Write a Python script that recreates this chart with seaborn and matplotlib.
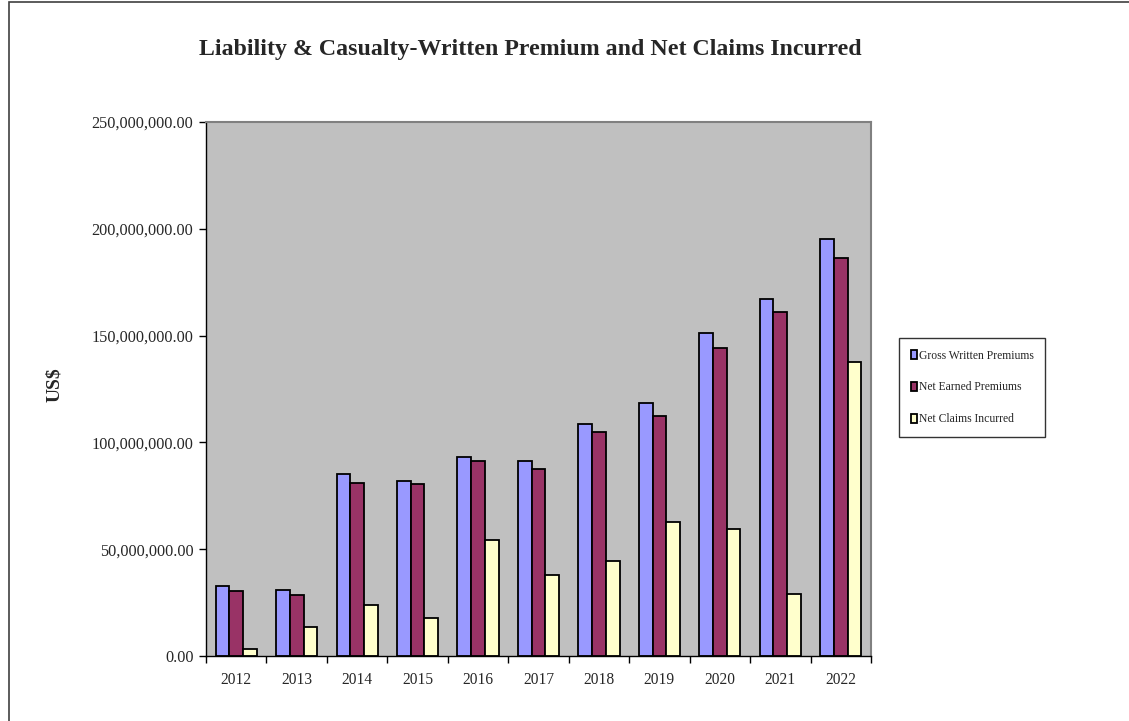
import matplotlib
matplotlib.use("Agg")
import matplotlib.pyplot as plt
import seaborn as sns
import pandas as pd
from matplotlib.patches import Rectangle
from matplotlib.ticker import FuncFormatter, FixedLocator

years = ["2012", "2013", "2014", "2015", "2016", "2017", "2018", "2019", "2020", "2021", "2022"]
gross_written = [32.6, 31.0, 85.2, 82.0, 93.3, 91.4, 108.6, 118.3, 151.4, 167.3, 195.4]
net_earned = [30.2, 28.7, 81.2, 80.5, 91.4, 87.6, 104.7, 112.5, 144.3, 161.0, 186.5]
net_claims = [3.4, 13.6, 24.0, 17.6, 54.2, 38.1, 44.3, 62.6, 59.3, 29.2, 137.8]
series_names = ["Gross Written Premiums", "Net Earned Premiums", "Net Claims Incurred"]
colors = ["#9999FF", "#993366", "#FFFFCC"]

rows = []
for name, vals in zip(series_names, [gross_written, net_earned, net_claims]):
    for y, v in zip(years, vals):
        rows.append({"Year": y, "Series": name, "Value": v * 1e6})
df = pd.DataFrame(rows)

sns.set_style("white")
plt.rcParams['font.family'] = ['Liberation Serif', 'DejaVu Serif']

W, H = 1129, 721
fig = plt.figure(figsize=(W / 100, H / 100), dpi=100)
ax = fig.add_axes([206 / W, 1 - 656 / H, 665 / W, 534 / H])

sns.barplot(data=df, x="Year", y="Value", hue="Series", order=years, hue_order=series_names,
            palette=colors, saturation=1, width=0.68, edgecolor="black", linewidth=1.3,
            ax=ax, errorbar=None)

ax.set_facecolor("#C0C0C0")
ax.set_ylim(0, 250e6)
ax.set_xlim(-0.5, 10.5)
ax.set_yticks([0, 50e6, 100e6, 150e6, 200e6, 250e6])
ax.yaxis.set_major_formatter(FuncFormatter(lambda v, p: f"{v:,.2f}"))
ax.tick_params(axis="y", which="major", direction="out", length=5, width=1, color="black",
               labelsize=11.7, pad=4, left=True)
ax.tick_params(axis="x", which="major", length=0, labelsize=11.2, pad=11.5)
ax.xaxis.set_minor_locator(FixedLocator([i - 0.5 for i in range(12)]))
ax.tick_params(axis="x", which="minor", direction="out", length=5, width=1, color="black", bottom=True)
ax.set_xlabel("")
ax.set_ylabel("")
for s in ["left", "bottom"]:
    ax.spines[s].set_color("black")
    ax.spines[s].set_linewidth(1.0)
for s in ["top", "right"]:
    ax.spines[s].set_color("#808080")
    ax.spines[s].set_linewidth(1.5)

handles, labels = ax.get_legend_handles_labels()
leg = ax.legend(handles, labels, loc="upper left",
                bbox_to_anchor=(899 / W, 1 - 338 / H), bbox_transform=fig.transFigure,
                fontsize=8.4, frameon=True, fancybox=False, edgecolor="black",
                handlelength=0.5, handleheight=0.75, handletextpad=0.2,
                labelspacing=1.7, borderpad=1.0, borderaxespad=0)
leg.get_frame().set_linewidth(1.0)

fig.text(530 / W, 1 - 49 / H, "Liability & Casualty-Written Premium and Net Claims Incurred",
         ha="center", va="center", fontsize=17.2, fontweight="bold")
fig.text(55 / W, 1 - 385 / H, "US$", ha="center", va="center", rotation=90,
         fontsize=14, fontweight="bold")

fig.patches.append(Rectangle((9 / W, -0.05), 1.2, 1 - 2 / H + 0.05, transform=fig.transFigure,
                             fill=False, edgecolor="#404040", linewidth=1.2))

fig.savefig("out.png", dpi=100)
